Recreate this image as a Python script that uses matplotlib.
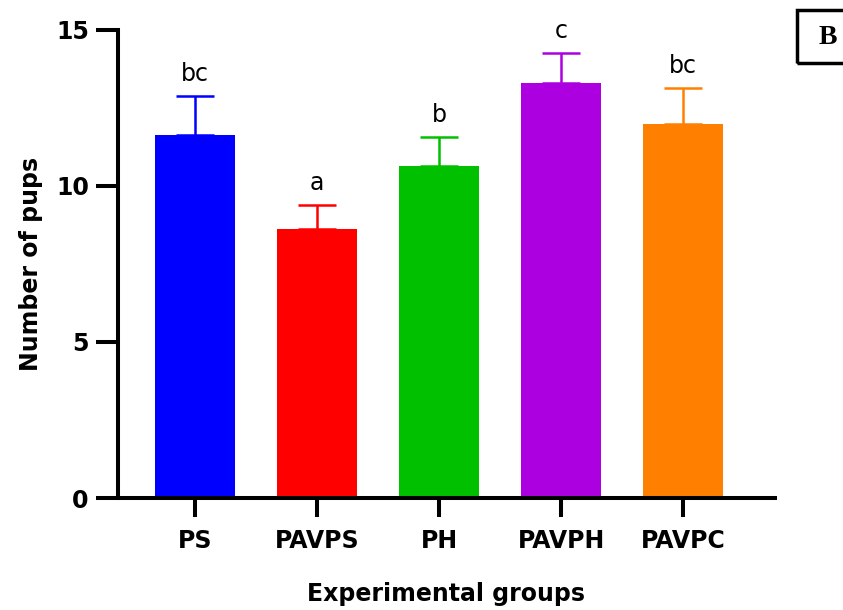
import matplotlib
matplotlib.use("Agg")
import matplotlib.pyplot as plt
from matplotlib.patches import Rectangle

# group means, SEM and significance letters
groups = ["PS", "PAVPS", "PH", "PAVPH", "PAVPC"]
means = [11.62, 8.61, 10.63, 13.30, 11.97]
sems = [1.26, 0.77, 0.94, 0.96, 1.16]
letters = ["bc", "a", "b", "c", "bc"]
colors = ["#0000FF", "#FF0000", "#00C000", "#AC00E0", "#FF8000"]


def main():
    plt.rcParams["font.family"] = ["DejaVu Sans"]
    fig = plt.figure(figsize=(8.43, 6.10), dpi=100)
    ax = fig.add_axes([0.14, 0.1836, 0.779, 0.768])

    x = list(range(len(groups)))
    ax.bar(x, means, width=0.66, color=colors, zorder=2)
    for xi, m, s, c, lab in zip(x, means, sems, colors, letters):
        ax.errorbar(xi, m, yerr=[[0], [s]], color=c, elinewidth=1.8,
                    capsize=14, capthick=1.8, zorder=1)
        ax.annotate(lab, (xi, m + s), xytext=(0, 7), textcoords="offset points",
                    ha="center", va="bottom", fontsize=17, color="black")

    ax.set_xlim(-0.63, 4.75)
    ax.set_ylim(0, 15)
    ax.set_yticks([0, 5, 10, 15])
    ax.set_xticks(x)
    ax.set_xticklabels(groups)

    for side in ["top", "right"]:
        ax.spines[side].set_visible(False)
    for side in ["left", "bottom"]:
        ax.spines[side].set_linewidth(2.9)

    ax.tick_params(axis="y", length=16, width=2.9, pad=5, labelsize=17)
    ax.tick_params(axis="x", length=14, width=2.9, pad=8, labelsize=17)
    for t in ax.get_xticklabels() + ax.get_yticklabels():
        t.set_fontweight("bold")

    ax.set_ylabel("Number of pups", fontsize=17, fontweight="bold", labelpad=9)
    ax.set_xlabel("Experimental groups", fontsize=17, fontweight="bold", labelpad=21)

    # panel letter box in the corner
    fig.patches.append(Rectangle((797 / 843, 1 - 63 / 610), 60 / 843, 53 / 610,
                                 transform=fig.transFigure, fill=False,
                                 edgecolor="black", linewidth=2.5))
    fig.text(828 / 843, 1 - 37 / 610, "B", ha="center", va="center",
             fontsize=20, fontweight="bold", family="Liberation Serif")

    fig.savefig("out.png", dpi=100)


if __name__ == "__main__":
    main()
